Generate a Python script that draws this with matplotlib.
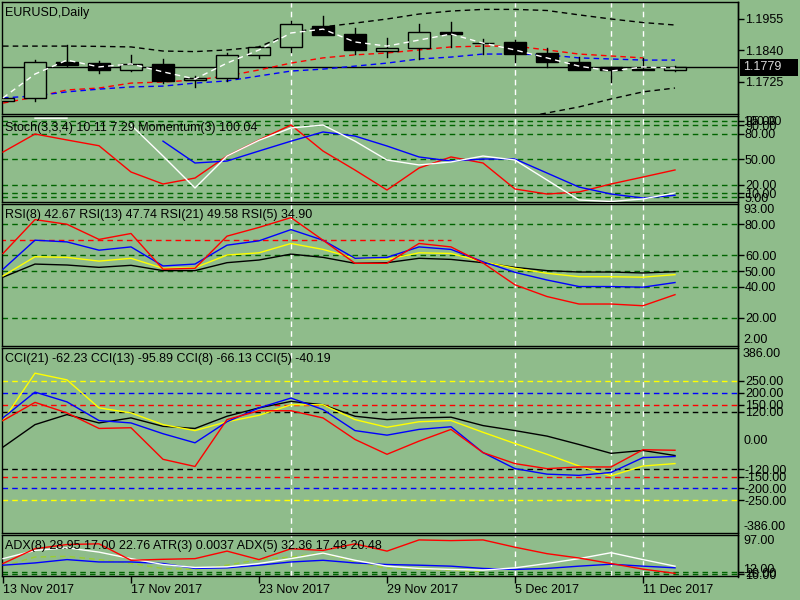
import matplotlib
matplotlib.use("Agg")
import matplotlib.pyplot as plt
from matplotlib.patches import Rectangle
from matplotlib.lines import Line2D
import numpy as np

nan = np.nan
plt.rcParams['font.family'] = ['Liberation Sans', 'DejaVu Sans']

# --- data (22 daily bars, 13 Nov .. 12 Dec 2017) ---
opens  = [1.1656, 1.1666, 1.1799, 1.1794, 1.1770, 1.1791, 1.1731, 1.1739, 1.1823, 1.1852, 1.1929,
          1.1901, 1.1839, 1.1848, 1.1906, 1.1867, 1.1870, 1.1832, 1.1798, 1.1779, 1.1770, 1.1770]
highs  = [1.1668, 1.1805, 1.1860, 1.1802, 1.1824, 1.1809, 1.1747, 1.1830, 1.1858, 1.1949, 1.1967,
          1.1921, 1.1885, 1.1937, 1.1944, 1.1881, 1.1878, 1.1848, 1.1815, 1.1779, 1.1812, 1.1785]
lows   = [1.1654, 1.1657, 1.1784, 1.1757, 1.1764, 1.1720, 1.1708, 1.1729, 1.1814, 1.1836, 1.1897,
          1.1826, 1.1817, 1.1808, 1.1852, 1.1826, 1.1797, 1.1779, 1.1770, 1.1726, 1.1768, 1.1764]
closes = [1.1666, 1.1797, 1.1788, 1.1770, 1.1790, 1.1730, 1.1739, 1.1824, 1.1852, 1.1937, 1.1898,
          1.1843, 1.1848, 1.1906, 1.1899, 1.1866, 1.1826, 1.1797, 1.1770, 1.1770, 1.1771, 1.1779]
last_price = 1.1779

ma_white = [1.1667, 1.1754, 1.1805, 1.1780, 1.1791, 1.1762, 1.1736, 1.1794, 1.1842, 1.1904, 1.1918,
            1.1871, 1.1856, 1.1878, 1.1900, 1.1867, 1.1842, 1.1813, 1.1783, 1.1765, 1.1780, 1.1776]
ma_red = [1.1648, 1.1670, 1.1696, 1.1703, 1.1721, 1.1725, 1.1732, 1.1747, 1.1769, 1.1794, 1.1813,
          1.1824, 1.1831, 1.1842, 1.1853, 1.1856, 1.1856, 1.1842, 1.1827, 1.1820, 1.1813]
ma_blue = [1.1667, 1.1674, 1.1689, 1.1699, 1.1707, 1.1710, 1.1721, 1.1729, 1.1747, 1.1765, 1.1772,
           1.1783, 1.1794, 1.1809, 1.1816, 1.1827, 1.1827, 1.1824, 1.1813, 1.1809, 1.1805, 1.1805]
band_up = [1.1856, 1.1856, 1.1856, 1.1855, 1.1853, 1.1838, 1.1836, 1.1842, 1.1853, 1.1904, 1.1926,
           1.1940, 1.1955, 1.1973, 1.1984, 1.1990, 1.1990, 1.1986, 1.1970, 1.1955, 1.1942, 1.1933]
band_lo_start = 15
band_lo = [1.1568, 1.1590, 1.1612, 1.1634, 1.1663, 1.1689, 1.1703]
price_ticks = [1.1955, 1.1840, 1.1725]

stoch_red = [58.2, 79.4, 72.4, 65.6, 34.7, 20.6, 27.6, 53.5, 72.4, 90.0, 59.4, 37.0, 13.5, 39.4,
             52.4, 45.3, 14.7, 8.8, 11.2, 20.6, 28.8, 37.1]
stoch_white = [nan, 98, 98, nan, 90, 53.5, 15.9, 53.5, 72, 86.5, 90, 71, 48.8, 43, 46.5, 53.5,
               48.8, 25.3, 1.8, 0, 3, 10.11]
stoch_blue = [73.5, nan, nan, nan, nan, 71, 45.3, 47.6, 59.4, 71, 81.8, 77, 65.3, 52.4, 47.6, 50,
              50, 33.5, 17, 8.8, 4.1, 7.29]
stoch_levels = [95, 90, 80, 50, 20, 10, 5]

rsi5 = [61.3, 83.0, 80.0, 70.3, 74.1, 51.2, 51.8, 72.4, 78.0, 84.3, 69.8, 55.0, 55.0, 67.7, 65.5,
        55.2, 41.2, 33.7, 28.9, 28.9, 27.8, 34.90]
rsi8 = [51.2, 69.8, 68.7, 63.4, 65.5, 53.3, 54.5, 66.6, 69.4, 76.6, 69.8, 58.2, 58.8, 65.5, 63.9,
        56.0, 49.2, 44.3, 40.1, 40.1, 39.7, 42.67]
rsi13 = [46.9, 59.2, 58.8, 56.4, 58.2, 51.8, 52.2, 60.3, 61.7, 67.7, 63.9, 58.2, 57.5, 61.7, 61.3,
         56.0, 51.8, 48.6, 46.4, 46.4, 46.1, 47.74]
rsi21 = [46.1, 54.5, 53.9, 52.4, 53.7, 50.3, 50.3, 55.4, 57.1, 60.9, 58.8, 55.0, 55.4, 58.2, 57.5,
         55.4, 52.4, 50.3, 49.4, 49.4, 48.8, 49.58]
rsi_levels = [80, 60, 50, 40, 20]
rsi_trend = 70

cci21 = [-27, 67, 109, 74, 95, 60, 51, 102, 137, 164, 150, 102, 88, 95, 98, 63, 42, 19, -16, -53,
         -41, -62.23]
cci13 = [84, 282, 254, 137, 116, 67, 42, 79, 106, 150, 150, 88, 56, 79, 84, 35, -12, -57, -106,
         -147, -106, -95.89]
cci8 = [95, 203, 162, 84, 74, 29, -9, 79, 137, 178, 130, 42, 23, 47, 58, -50, -117, -140, -145,
        -133, -71, -66.13]
cci5 = [84, 160, 116, 51, 54, -78, -108, 88, 125, 125, 95, 5, -57, -2, 47, -50, -96, -117, -110,
        -110, -38, -40.19]
cci_levels = [250, 200, 150, 120, -120, -150, -200, -250]

adx_red = [37.9, 68.5, 77.3, 78.7, 44.6, 46.6, 48.0, 63.6, 46.0, 68.5, 65.0, 78.7, 63.6, 86.8,
           85.4, 86.8, 71.7, 58.3, 49.3, 37.9, 26.2, 17.5]
adx_white = [48, 65, 70.5, 61.5, 48, 35.8, 29.7, 31, 37.9, 48, 59.5, 44.6, 32.4, 27.7, 25.6, 24.2,
             28.9, 37.9, 48, 60.3, 46, 32.36]
adx_blue = [34.4, 39.1, 46, 41.1, 41.1, 37.9, 27.7, 28.9, 34.4, 41.1, 44.6, 39.1, 35.8, 34.4, 32.4,
            27.7, 25.6, 27.7, 32.4, 36.4, 32.4, 28.95]
adx_atr = [32.4, 51.3, 52.8, 46, 37.9, 27.7, 25.6, 34.4, 46, 51.3, 59.5, 41.1, 27.7, 26.2, 24.2, 21]
adx_levels = [20, 16]

date_pos = [0, 4, 8, 12, 16, 20]
date_labels = ["13 Nov 2017", "17 Nov 2017", "23 Nov 2017", "29 Nov 2017", "5 Dec 2017", "11 Dec 2017"]
vlines_at = [9, 16, 19, 20]

# --- layout helpers (pixel based, MT4 look) ---
W, H = 800, 600
BG = '#8FBC8B'
GRID = '#006400'
DASH = (0, (4, 3))
FS = 9
PW = 736.0  # panel width in px

fig = plt.figure(figsize=(W / 100, H / 100), dpi=100, facecolor=BG)


def panel(top, bottom, left=2, right=738):
    ax = fig.add_axes([left / W, 1 - bottom / H, (right - left) / W, (bottom - top) / H])
    ax.set_facecolor(BG)
    ax.set_xlim((left - 3) / 32, (right - 3) / 32)
    for s in ax.spines.values():
        s.set_color('black')
        s.set_linewidth(1)
    ax.yaxis.tick_right()
    ax.tick_params(axis='y', direction='out', length=4, width=1, pad=1, labelsize=FS, colors='black')
    ax.set_xticks([])
    for v in vlines_at:
        ax.axvline(v, color='white', lw=1, ls=DASH, zorder=1)
    return ax


def side_text(ax, txt, yfrac, va):
    ax.text(1 + 5 / PW, yfrac, txt, transform=ax.transAxes, fontsize=FS, ha='left', va=va)


def title(ax, txt, px_from_top, height):
    ax.text(3 / PW, 1 - px_from_top / height, txt, transform=ax.transAxes, fontsize=FS,
            va='center', ha='left', zorder=10)


x = np.arange(len(closes))

# price panel
ax1 = panel(2, 114)
ax1.set_ylim(1.16082, 1.20170)
ax1.axhline(last_price, color='black', lw=1, zorder=2)
ax1.plot(x, band_up, color='black', lw=1, ls=DASH, zorder=3)
ax1.plot(np.arange(band_lo_start, band_lo_start + len(band_lo)), band_lo, color='black', lw=1, ls=DASH, zorder=3)
ax1.plot(np.arange(len(ma_red)), ma_red, color='red', lw=1, ls=DASH, zorder=3)
ax1.plot(x, ma_blue, color='blue', lw=1, ls=DASH, zorder=3)
for i in range(len(closes)):
    o, h, l, c = opens[i], highs[i], lows[i], closes[i]
    top, bot = max(o, c), min(o, c)
    ax1.plot([i, i], [top, h], color='black', lw=1, zorder=4)
    ax1.plot([i, i], [l, bot], color='black', lw=1, zorder=4)
    face = BG if c >= o else 'black'
    ax1.add_patch(Rectangle((i - 0.35, bot), 0.7, max(top - bot, 1e-6), facecolor=face,
                            edgecolor='black', lw=1, zorder=5))
ax1.plot(x, ma_white, color='white', lw=1, ls=DASH, zorder=6)
ax1.set_yticks(price_ticks)
ax1.set_yticklabels(['%.4f' % v for v in price_ticks])
title(ax1, 'EURUSD,Daily', 11, 112)

# current price tag
fig.add_artist(Rectangle((740 / W, 1 - 76 / H), 58 / W, 17 / H, transform=fig.transFigure,
                         facecolor='black', edgecolor='none'))
fig.text(743 / W, 1 - 67.5 / H, '%.4f' % last_price, color='#D8D8D8', fontsize=FS, va='center', ha='left')

# stochastic panel
ax2 = panel(116, 201.5)
ax2.set_ylim(0, 100.6)
for lv in stoch_levels:
    ax2.axhline(lv, color=GRID, lw=1, ls=DASH, zorder=1)
ax2.plot(x, stoch_red, color='red', lw=1, zorder=3)
ax2.plot(x, stoch_blue, color='blue', lw=1, zorder=3)
ax2.plot(x, stoch_white, color='white', lw=1, zorder=3)
ax2.set_yticks(stoch_levels)
ax2.set_yticklabels(['%.2f' % v for v in stoch_levels])
title(ax2, 'Stoch(3,3,4) 10.11 7.29 Momentum(3) 100.04', 11.5, 85.5)
side_text(ax2, '100.00', 1.0, 'top')

# RSI panel
ax3 = panel(204, 346)
ax3.set_ylim(2, 93)
for lv in rsi_levels:
    ax3.axhline(lv, color=GRID, lw=1, ls=DASH, zorder=1)
ax3.plot([-0.1, 14], [rsi_trend, rsi_trend], color='red', lw=1, ls=DASH, zorder=2)
ax3.plot(x, rsi21, color='black', lw=1, zorder=3)
ax3.plot(x, rsi13, color='yellow', lw=1, zorder=3)
ax3.plot(x, rsi8, color='blue', lw=1, zorder=3)
ax3.plot(x, rsi5, color='red', lw=1, zorder=3)
ax3.set_yticks(rsi_levels)
ax3.set_yticklabels(['%.2f' % v for v in rsi_levels])
title(ax3, 'RSI(8) 42.67 RSI(13) 47.74 RSI(21) 49.58 RSI(5) 34.90', 11, 142)
side_text(ax3, '93.00', 1.0, 'top')
side_text(ax3, '2.00', 0.0, 'bottom')

# CCI panel
ax4 = panel(348.3, 533)
ax4.set_ylim(-386, 386)
for lv, col in [(250, 'yellow'), (200, 'blue'), (150, 'red'), (120, 'black')]:
    ax4.axhline(lv, color=col, lw=1, ls=DASH, zorder=1)
    ax4.axhline(-lv, color=col, lw=1, ls=DASH, zorder=1)
ax4.plot(x, cci21, color='black', lw=1, zorder=3)
ax4.plot(x, cci13, color='yellow', lw=1, zorder=3)
ax4.plot(x, cci8, color='blue', lw=1, zorder=3)
ax4.plot(x, cci5, color='red', lw=1, zorder=3)
ax4.set_yticks(cci_levels)
ax4.set_yticklabels(['%.2f' % v for v in cci_levels])
title(ax4, 'CCI(21) -62.23 CCI(13) -95.89 CCI(8) -66.13 CCI(5) -40.19', 11, 184.7)
side_text(ax4, '386.00', 1.0, 'top')
side_text(ax4, '0.00', 0.5, 'center')
side_text(ax4, '-386.00', 0.0, 'bottom')

# ADX / ATR panel
ax5 = panel(535, 576)
ax5.set_ylim(12, 97)
for lv in adx_levels:
    ax5.axhline(lv, color=GRID, lw=1, ls=DASH, zorder=1)
ax5.plot(np.arange(len(adx_atr)), adx_atr, color='yellowgreen', lw=1, ls=DASH, zorder=2)
ax5.plot(x, adx_blue, color='blue', lw=1, zorder=3)
ax5.plot(x, adx_white, color='white', lw=1, zorder=3)
ax5.plot(x, adx_red, color='red', lw=1, zorder=3)
ax5.set_yticks(adx_levels)
ax5.set_yticklabels(['%.2f' % v for v in adx_levels])
title(ax5, 'ADX(8) 28.95 17.00 22.76 ATR(3) 0.0037 ADX(5) 32.36 17.48 20.48', 11, 41)
side_text(ax5, '97.00', 1.0, 'top')
side_text(ax5, '12.00', 0.0, 'bottom')
ax5.set_xticks(date_pos)
ax5.set_xticklabels(date_labels)
ax5.tick_params(axis='x', direction='out', length=5, width=1, pad=1, labelsize=FS)
for t in ax5.get_xticklabels():
    t.set_ha('left')

# continuous price axis line on the right
fig.add_artist(Line2D([738 / W, 738 / W], [1 - 2 / H, 1 - 577 / H], transform=fig.transFigure,
                      color='black', lw=1))

fig.savefig('out.png', dpi=100, facecolor=BG)
